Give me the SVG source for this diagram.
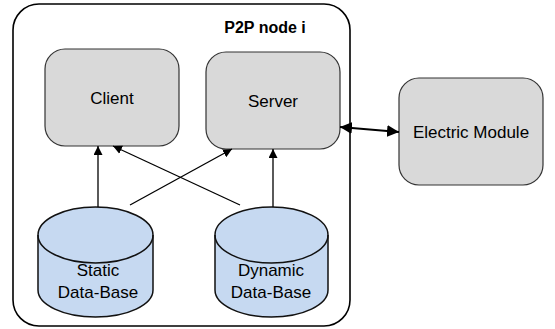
<svg xmlns="http://www.w3.org/2000/svg" width="555" height="329" viewBox="0 0 555 329">
<defs>
<style>
.box{fill:#d9d9d9;stroke:#333;stroke-width:1.2}
.cyl{fill:#c6d9f1;stroke:#111;stroke-width:1.5}
.lbl{font-family:"Liberation Sans",Arial,sans-serif;font-size:17px;fill:#000;text-anchor:middle}
.conn{stroke:#000;stroke-width:1.3;fill:none}
</style>
<marker id="ah" viewBox="0 0 10 10" refX="10" refY="5" markerWidth="9" markerHeight="9" markerUnits="userSpaceOnUse" orient="auto-start-reverse">
<path d="M0,0 L10,5 L0,10 z" fill="#000"/>
</marker>
<marker id="ahb" viewBox="0 0 10 10" refX="10" refY="5" markerWidth="12" markerHeight="12" markerUnits="userSpaceOnUse" orient="auto-start-reverse">
<path d="M0,0 L10,5 L0,10 z" fill="#000"/>
</marker>
</defs>
<rect width="555" height="329" fill="#fff"/>
<g id="p2p-node">
<rect x="13" y="4" width="337" height="322" rx="26" ry="26" fill="#fff" stroke="#000" stroke-width="1.6"/>
<text x="265" y="33" class="lbl" style="font-weight:bold;font-size:16px">P2P node i</text>
</g>
<g id="client">
<rect class="box" x="45" y="49" width="134" height="97" rx="20" ry="20"/>
<text class="lbl" x="112" y="104">Client</text>
</g>
<g id="server">
<rect class="box" x="206" y="52" width="134" height="97" rx="20" ry="20"/>
<text class="lbl" x="273" y="107">Server</text>
</g>
<g id="electric-module">
<rect class="box" x="399" y="78" width="144" height="107" rx="20" ry="20"/>
<text class="lbl" x="471" y="138">Electric Module</text>
</g>
<g id="static-db">
<path class="cyl" d="M38,235 A57.5,28 0 0 1 153,235 L153,290 A57.5,27 0 0 1 38,290 Z"/>
<path class="cyl" style="fill:none" d="M38,235 A57.5,28 0 0 0 153,235"/>
<text class="lbl" x="98" y="276">Static</text>
<text class="lbl" x="98" y="298">Data-Base</text>
</g>
<g id="dynamic-db">
<path class="cyl" d="M215,235 A56.5,28 0 0 1 328,235 L328,290 A56.5,27 0 0 1 215,290 Z"/>
<path class="cyl" style="fill:none" d="M215,235 A56.5,28 0 0 0 328,235"/>
<text class="lbl" x="271" y="276">Dynamic</text>
<text class="lbl" x="271" y="298">Data-Base</text>
</g>
<g id="connectors">
<line class="conn" x1="98" y1="207" x2="98" y2="146" marker-end="url(#ah)"/>
<line class="conn" x1="273" y1="207" x2="273" y2="149" marker-end="url(#ah)"/>
<line class="conn" x1="130" y1="205" x2="232" y2="149" marker-end="url(#ah)"/>
<line class="conn" x1="240" y1="205" x2="113" y2="146" marker-end="url(#ah)"/>
<line class="conn" style="stroke-width:2" x1="340" y1="127" x2="399" y2="132" marker-start="url(#ahb)" marker-end="url(#ahb)"/>
</g>
</svg>
